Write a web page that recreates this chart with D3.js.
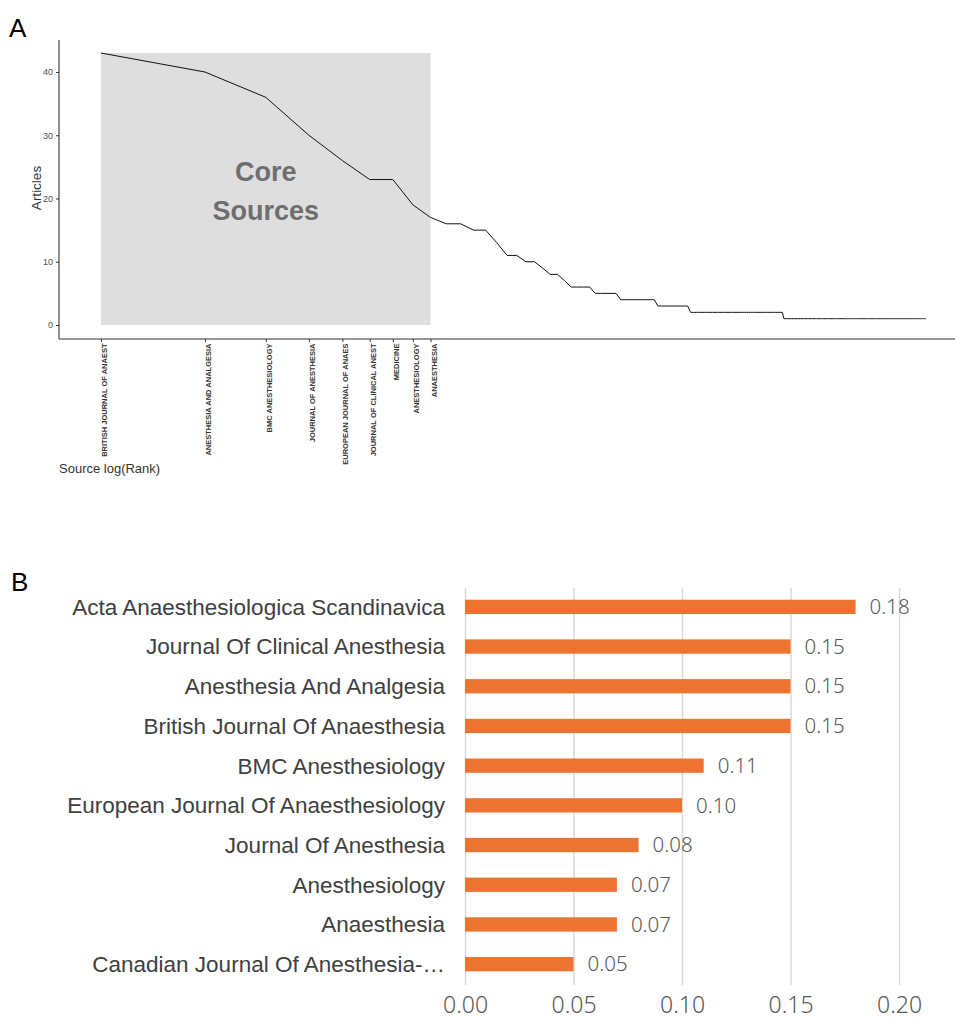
<!DOCTYPE html>
<html>
<head>
<meta charset="utf-8">
<script src="https://cdn.jsdelivr.net/npm/d3@7"></script>
<style>
  body { margin: 0; background: #fff; }
  svg { display: block; font-family: "Liberation Sans", Arial, sans-serif; }
  .light { font-family: "Noto Sans", "Open Sans", sans-serif; font-weight: 300; }
</style>
</head>
<body>
<svg id="chart" width="955" height="1021"></svg>
<script>
// Panel A: Bradford plot. Articles per source, given as levels and how many sources sit on each level
const articleLevels = [43, 40, 36, 30, 26, 23, 19, 17, 16, 15, 13, 11, 10, 9, 8, 7, 6, 5, 4, 3, 2, 1];
const sourcesPerLevel = [1, 1, 1, 1, 1, 2, 1, 1, 2, 2, 1, 2, 2, 1, 2, 1, 4, 5, 9, 10, 44, 151];
const coreSources = [
  "BRITISH JOURNAL OF ANAEST", "ANESTHESIA AND ANALGESIA", "BMC ANESTHESIOLOGY",
  "JOURNAL OF ANESTHESIA", "EUROPEAN JOURNAL OF ANAES", "JOURNAL OF CLINICAL ANEST",
  "MEDICINE", "ANESTHESIOLOGY", "ANAESTHESIA"
];
const yTicksA = [0, 10, 20, 30, 40];

// Panel B: bar chart
const journals = [
  "Acta Anaesthesiologica Scandinavica", "Journal Of Clinical Anesthesia",
  "Anesthesia And Analgesia", "British Journal Of Anaesthesia", "BMC Anesthesiology",
  "European Journal Of Anaesthesiology", "Journal Of Anesthesia", "Anesthesiology",
  "Anaesthesia", "Canadian Journal Of Anesthesia-…"
];
const journalValues = [0.18, 0.15, 0.15, 0.15, 0.11, 0.10, 0.08, 0.07, 0.07, 0.05];
const xTicksB = [0, 0.05, 0.10, 0.15, 0.20];

const svg = d3.select("#chart");

// ---------- panel A ----------
let articles = [];
articleLevels.forEach((v, i) => {
  for (let k = 0; k < sourcesPerLevel[i]; k++) articles.push(v);
});
const ranks = articles.map((d, i) => ({ rank: i + 1, n: d }));

const xA = d3.scaleLinear()
  .domain([0, Math.log(ranks.length)])
  .range([101, 926]);
const yA = d3.scaleLinear()
  .domain([0, 40])
  .range([325, 72]);

svg.append("text").attr("x", 9).attr("y", 37)
  .attr("font-size", 26).attr("fill", "#000").text("A");

// core sources zone
const coreEnd = xA(Math.log(coreSources.length));
svg.append("rect")
  .attr("x", xA(0))
  .attr("y", yA(d3.max(articles)))
  .attr("width", coreEnd - xA(0))
  .attr("height", yA(0) - yA(d3.max(articles)))
  .attr("fill", "#dedede");

const coreText = svg.append("text")
  .attr("text-anchor", "middle")
  .attr("font-size", 27).attr("font-weight", "bold").attr("fill", "#6e6e6e");
coreText.append("tspan").attr("x", (xA(0) + coreEnd) / 2).attr("y", 181).text("Core");
coreText.append("tspan").attr("x", (xA(0) + coreEnd) / 2).attr("y", 220).text("Sources");

// axes lines
svg.append("line").attr("x1", 59).attr("x2", 59).attr("y1", 40).attr("y2", 339)
  .attr("stroke", "#333").attr("stroke-width", 1.1);
svg.append("line").attr("x1", 59).attr("x2", 955).attr("y1", 339).attr("y2", 339)
  .attr("stroke", "#333").attr("stroke-width", 1.1);

const yAxisA = svg.append("g")
  .attr("transform", "translate(59,0)")
  .call(d3.axisLeft(yA).tickValues(yTicksA).tickSize(3).tickPadding(3));
yAxisA.select(".domain").remove();
yAxisA.selectAll("line").attr("stroke", "#333");
yAxisA.selectAll("text").attr("font-size", 9).attr("fill", "#4d4d4d")
  .attr("font-family", "Liberation Sans, Arial, sans-serif");

const xAxisA = svg.append("g")
  .attr("transform", "translate(0,339)")
  .call(d3.axisBottom(xA)
    .tickValues(coreSources.map((d, i) => Math.log(i + 1)))
    .tickFormat((d, i) => coreSources[i])
    .tickSize(3));
xAxisA.select(".domain").remove();
xAxisA.selectAll("line").attr("stroke", "#333");
xAxisA.selectAll("text")
  .attr("font-size", 7.5).attr("font-weight", "bold").attr("fill", "#333")
  .attr("font-family", "Liberation Sans, Arial, sans-serif")
  .style("text-anchor", "end")
  .attr("transform", "rotate(-90)")
  .attr("x", -4.5).attr("y", 0).attr("dy", "0.75em");

svg.append("path")
  .datum(ranks)
  .attr("fill", "none")
  .attr("stroke", "#111")
  .attr("stroke-width", 1)
  .attr("d", d3.line().x(d => xA(Math.log(d.rank))).y(d => yA(d.n)));

svg.append("text")
  .attr("transform", "translate(41,188) rotate(-90)")
  .attr("text-anchor", "middle").attr("font-size", 13.5).attr("fill", "#333")
  .text("Articles");
svg.append("text").attr("x", 59).attr("y", 473)
  .attr("font-size", 13).attr("fill", "#333").text("Source log(Rank)");

// ---------- panel B ----------
svg.append("text").attr("x", 11).attr("y", 591)
  .attr("font-size", 26).attr("fill", "#000").text("B");

const xB = d3.scaleLinear().domain([0, 0.2]).range([465, 899]);
const yB = d3.scaleBand().domain(journals).range([587, 984]);
const barH = yB.bandwidth() * 0.36;

const gridB = svg.append("g")
  .attr("transform", "translate(0,985)")
  .call(d3.axisBottom(xB).tickValues(xTicksB).tickFormat(d3.format(".2f"))
    .tickSize(-(985 - 588)).tickPadding(12));
gridB.select(".domain").remove();
gridB.selectAll("line").attr("stroke", "#d9d9d9").attr("stroke-width", 1.5);
gridB.selectAll("text").attr("class", "light").attr("font-size", 23).attr("fill", "#595959");

svg.append("g").selectAll("rect")
  .data(journals)
  .join("rect")
  .attr("x", xB(0))
  .attr("y", d => yB(d) + (yB.bandwidth() - barH) / 2)
  .attr("width", (d, i) => xB(journalValues[i]) - xB(0))
  .attr("height", barH)
  .attr("fill", "#ed7331");

svg.append("g").selectAll("text")
  .data(journals)
  .join("text")
  .attr("x", 445)
  .attr("y", d => yB(d) + yB.bandwidth() / 2)
  .attr("dy", "0.35em")
  .attr("text-anchor", "end")
  .attr("font-size", 22.5).attr("fill", "#404040")
  .text(d => d);

svg.append("g").selectAll("text")
  .data(journals)
  .join("text")
  .attr("class", "light")
  .attr("x", (d, i) => xB(journalValues[i]) + 14)
  .attr("y", d => yB(d) + yB.bandwidth() / 2)
  .attr("dy", "0.35em")
  .attr("font-size", 20.5).attr("fill", "#595959")
  .text((d, i) => journalValues[i].toFixed(2));
</script>
</body>
</html>
